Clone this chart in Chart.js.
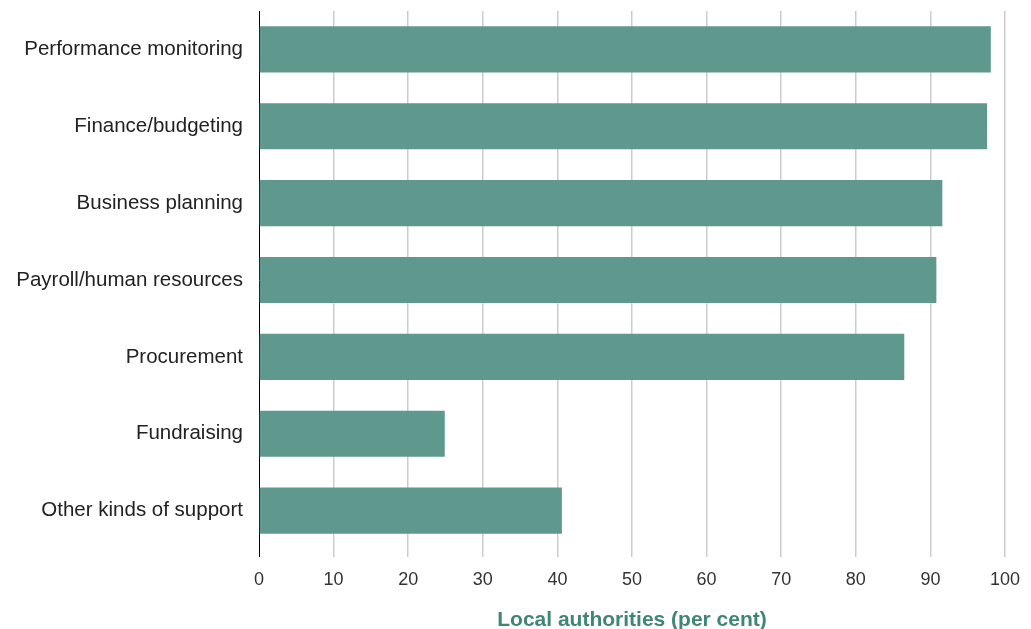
<!DOCTYPE html>
<html>
<head>
<meta charset="utf-8">
<script src="https://cdn.jsdelivr.net/npm/chart.js@4/dist/chart.umd.min.js"></script>
<style>
html,body{margin:0;padding:0;background:#fff;}
#wrap{width:1031px;height:629px;position:relative;}
</style>
</head>
<body>
<div id="wrap"><canvas id="c" width="1031" height="629"></canvas></div>
<script>
const categories = ["Performance monitoring","Finance/budgeting","Business planning","Payroll/human resources","Procurement","Fundraising","Other kinds of support"];
const values = [98.1, 97.6, 91.6, 90.8, 86.5, 24.9, 40.6];
const xTicks = [0,10,20,30,40,50,60,70,80,90,100];
const axisTitle = "Local authorities (per cent)";

const FONT = "'Liberation Sans', Arial, sans-serif";
new Chart(document.getElementById('c'), {
  type: 'bar',
  data: {
    labels: categories,
    datasets: [{
      data: values,
      backgroundColor: '#5f998e',
      borderWidth: 0,
      categoryPercentage: 1,
      barPercentage: 0.6
    }]
  },
  options: {
    indexAxis: 'y',
    responsive: false,
    animation: false,
    devicePixelRatio: 1,
    layout: { padding: { left: 0, right: 26, top: 11, bottom: 0 } },
    plugins: { legend: { display: false }, tooltip: { enabled: false } },
    scales: {
      x: {
        min: 0, max: 100,
        afterBuildTicks: s => { s.ticks = xTicks.map(v => ({ value: v })); },
        grid: {
          color: ctx => ctx.index === 0 ? 'rgba(0,0,0,0)' : '#cccccc',
          lineWidth: 1.5,
          drawTicks: true,
          tickLength: 8
        },
        border: { display: false },
        ticks: { color: '#333333', font: { family: FONT, size: 18 }, padding: 12, maxRotation: 0 },
        title: { display: true, text: axisTitle, color: '#3e8676', font: { family: FONT, size: 21, weight: 'bold' }, padding: { top: 12, bottom: -3.5 } },
        afterFit: s => { s.height = 80; s.paddingLeft = 0; s.paddingRight = 0; }
      },
      y: {
        grid: { display: false, drawTicks: false, tickLength: 0 },
        border: { display: true, color: '#000000', width: 1 },
        ticks: { color: '#222222', font: { family: FONT, size: 20.5 }, padding: 16 },
        afterFit: s => { s.width = 259; s.paddingTop = 0; s.paddingBottom = 0; }
      }
    }
  },
  plugins: [{
    id: 'leftAxisExtend',
    afterDraw: chart => {
      const ctx = chart.ctx, a = chart.chartArea;
      ctx.save();
      ctx.strokeStyle = '#000000';
      ctx.lineWidth = 1;
      ctx.beginPath();
      ctx.moveTo(a.left + 0.5, a.bottom);
      ctx.lineTo(a.left + 0.5, a.bottom + 8);
      ctx.stroke();
      ctx.restore();
    }
  }]
});
</script>
</body>
</html>
